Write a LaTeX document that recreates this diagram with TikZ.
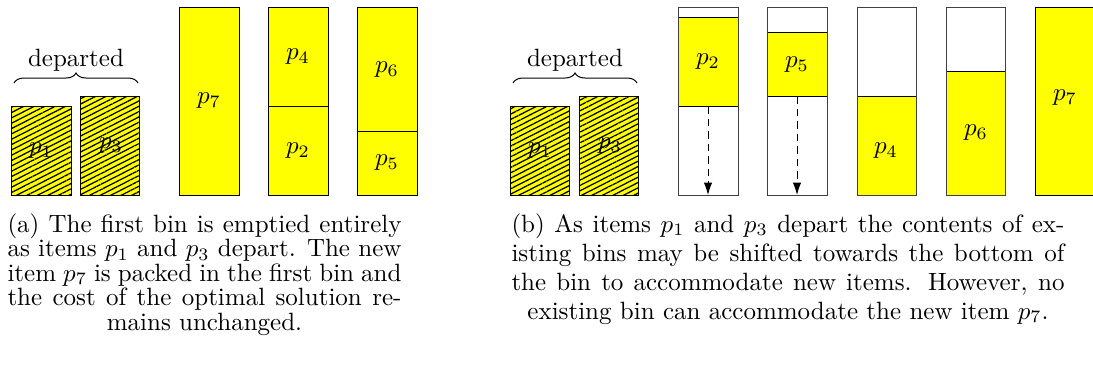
\documentclass[tikz,border=0pt]{standalone}
\usetikzlibrary{patterns.meta,decorations.pathreplacing,arrows.meta}
\definecolor{itemyellow}{RGB}{255,255,0}
\begin{document}
\begin{tikzpicture}[x=0.4pt,y=-0.4pt,
  item/.style={draw=black,line width=0.4pt,fill=itemyellow},
  gone/.style={draw=black,line width=0.4pt,fill=itemyellow,
    postaction={pattern={Lines[angle=27,distance=1.9pt,line width=0.5pt]},pattern color=black}},
  binbox/.style={draw=black!75,line width=0.4pt},
  lbl/.style={inner sep=0pt},
  brc/.style={decorate,decoration={brace,amplitude=4pt},line width=0.4pt},
  movearrow/.style={dash pattern=on 3pt off 2pt,line width=0.4pt,-{Latex[length=5pt,width=3.4pt]}},
  capline/.style={anchor=base west,inner sep=0pt}
]
\useasboundingbox (0,0) rectangle (1093,369);

% ---------- panel (a) ----------
\path[gone] (11,106) rectangle (71,195);
\node[lbl] (a1) at (41,151) {$p_1$};
\path[gone] (80,96) rectangle (139,195);
\node[lbl] (a3) at (111,146) {$p_3$};
\draw[brc] (14,83) -- (138,83);
\node[lbl] (adep) at (76,60) {departed};

\path[item] (179,7) rectangle (239,195);
\node[lbl] (a7) at (209,101) {$p_7$};

\path[item] (268,7) rectangle (328,106);
\path[item] (268,106) rectangle (328,195);
\node[lbl] (a4) at (298,57) {$p_4$};
\node[lbl] (a2) at (298,151) {$p_2$};

\path[item] (357,7) rectangle (417,131);
\path[item] (357,131) rectangle (417,195);
\node[lbl] (a6) at (387,70) {$p_6$};
\node[lbl] (a5) at (387,163) {$p_5$};

% ---------- panel (b) ----------
\path[gone] (510,106) rectangle (569,195);
\node[lbl] (b1) at (540,151) {$p_1$};
\path[gone] (579,96) rectangle (638,195);
\node[lbl] (b3) at (610,146) {$p_3$};
\draw[brc] (513,83) -- (637,83);
\node[lbl] (bdep) at (575,60) {departed};

% bin 1
\path[item] (678,17) rectangle (738,106);
\draw[binbox] (678,7) rectangle (738,195);
\node[lbl] (b2) at (708,62) {$p_2$};
\coordinate (s2) at (708,106);
\coordinate (e2) at (708,195);
\draw[movearrow] (s2) -- (e2);

% bin 2
\path[item] (767,32) rectangle (827,96);
\draw[binbox] (767,7) rectangle (827,195);
\node[lbl] (b5) at (797,65) {$p_5$};
\coordinate (s5) at (797,96);
\coordinate (e5) at (797,195);
\draw[movearrow] (s5) -- (e5);

% bin 3
\path[item] (857,96) rectangle (916,195);
\draw[binbox] (857,7) rectangle (916,195);
\node[lbl] (b4) at (886,151) {$p_4$};

% bin 4
\path[item] (946,71) rectangle (1005,195);
\draw[binbox] (946,7) rectangle (1005,195);
\node[lbl] (b6) at (976,133) {$p_6$};

% bin 5
\path[item] (1035,7) rectangle (1095,195);
\node[lbl] (b7) at (1065,98) {$p_7$};

% ---------- captions ----------
\node[capline] (ca1) at (7,232) {\hbox to 157.6pt{(a) The first bin is emptied entirely}};
\node[capline] (ca2) at (7,256.5) {\hbox to 157.6pt{as items $p_1$ and $p_3$ depart. The new}};
\node[capline] (ca3) at (7,281) {\hbox to 157.6pt{item $p_7$ is packed in the first bin and}};
\node[capline] (ca4) at (7,305.5) {\hbox to 157.6pt{the cost of the optimal solution re-}};
\node[capline] (ca5) at (7,330) {\hbox to 157.6pt{\hfil mains unchanged.\hfil}};

\node[capline] (cb1) at (511,232) {\hbox to 221.2pt{(b) As items $p_1$ and $p_3$ depart the contents of ex-}};
\node[capline] (cb2) at (511,261) {\hbox to 221.2pt{isting bins may be shifted towards the bottom of}};
\node[capline] (cb3) at (511,290) {\hbox to 221.2pt{the bin to accommodate new items. However, no}};
\node[capline] (cb4) at (511,319) {\hbox to 221.2pt{\hfil existing bin can accommodate the new item $p_7$.\hfil}};
\end{tikzpicture}
\end{document}
